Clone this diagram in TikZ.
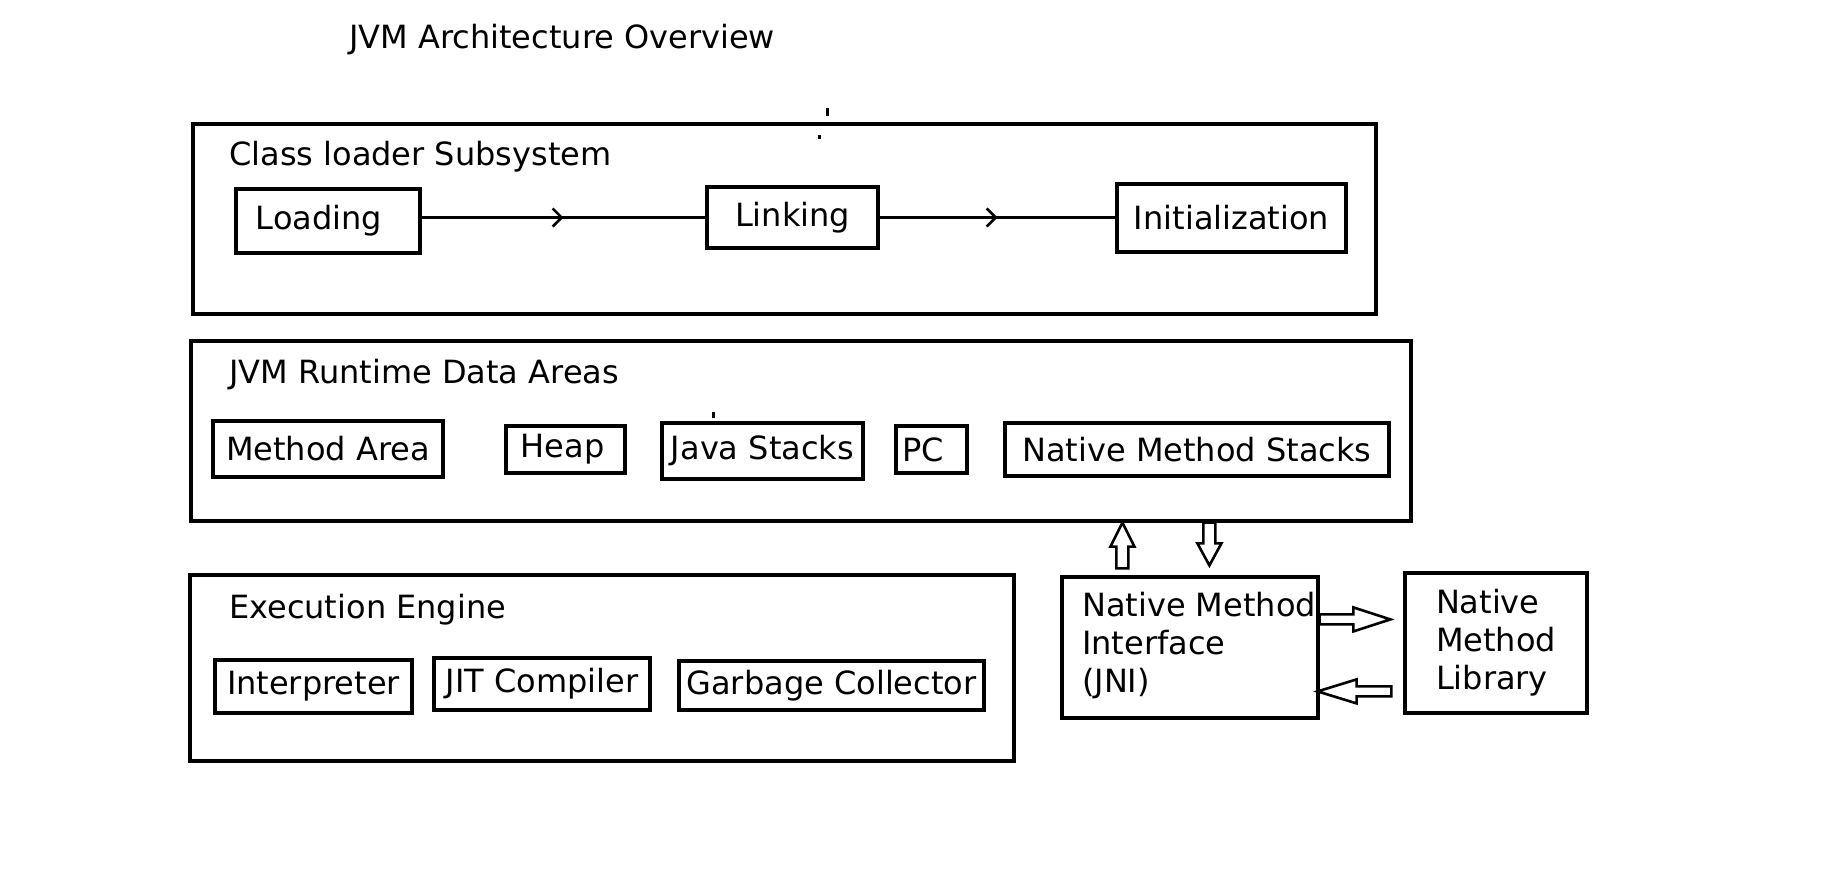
\documentclass[tikz,border=0pt]{standalone}
\usepackage{fontspec}
\setmainfont{DejaVu Sans}
\usetikzlibrary{calc,arrows.meta,decorations.markings}
\tikzset{
  txt/.style={font=\fontsize{32}{38}\selectfont, inner sep=0pt},
  box/.style={draw, line width=3.2pt, inner sep=0pt, font=\fontsize{32}{38}\selectfont},
  outer/.style={draw, line width=3.2pt, inner sep=0pt},
  flow/.style={line width=2.6pt, postaction={decorate, decoration={markings,
      mark=at position 0.5 with {\arrow{Straight Barb[length=9pt,width=18pt,line width=2.6pt]}}}}},
  hollow/.style={draw, fill=white, line width=2.6pt, line join=miter},
  speck/.style={fill=black, draw=none}
}
\begin{document}
\begin{tikzpicture}[x=1pt,y=-1pt]
\useasboundingbox (0,0) rectangle (1824,879);

% title
\node[txt, anchor=west] (title) at (349,40) {JVM Architecture Overview};

% class loader subsystem
\node[outer, minimum width=1183, minimum height=190] (cl) at (784.5,219) {};
\node[txt, anchor=west] (cltitle) at (229,157) {Class loader Subsystem};
\node[box, minimum width=184, minimum height=64] (loading) at (328,221) {Loading\hspace*{18pt}};
\node[box, minimum width=171, minimum height=61] (linking) at (792.5,217.5) {Linking};
\node[box, minimum width=229, minimum height=68] (init) at (1231.5,218) {Initialization};
\draw[flow] (loading.east |- linking.west) -- (linking.west);
\draw[flow] (linking.east) -- (linking.east -| init.west);

% stray specks
\fill[speck] (826,108) rectangle (829,116);
\fill[speck] (818,135) rectangle (821,139);
\fill[speck] (712,412) rectangle (715,418);

% runtime data areas
\node[outer, minimum width=1220, minimum height=180] (rt) at (801,431) {};
\node[txt, anchor=west] (rttitle) at (229,375) {JVM Runtime Data Areas};
\node[box, minimum width=230, minimum height=56] (method) at (328,449) {Method Area};
\node[box, minimum width=119, minimum height=47] (heap) at (565.5,449.5) {Heap\hspace*{6pt}};
\node[box, minimum width=201, minimum height=56] (jstack) at (762.5,451) {Java Stacks};
\node[box, minimum width=71, minimum height=47] (pc) at (931.5,449.5) {PC\hspace*{16pt}};
\node[box, minimum width=384, minimum height=53] (nms) at (1197,449.5) {Native Method Stacks};

% execution engine
\node[outer, minimum width=824, minimum height=186] (ee) at (602,668) {};
\node[txt, anchor=west] (eetitle) at (229,610) {Execution Engine};
\node[box, minimum width=197, minimum height=53] (interp) at (313.5,686.5) {Interpreter};
\node[box, minimum width=216, minimum height=52] (jit) at (542,684) {JIT Compiler};
\node[box, minimum width=305, minimum height=49] (gc) at (831.5,685.5) {Garbage Collector};

% native method interface and library
\node[box, minimum width=256, minimum height=141, align=left] (jni) at (1190,647.5) {\hspace*{18pt}Native Method\\\hspace*{18pt}Interface\\\hspace*{18pt}(JNI)\vspace*{4pt}};
\node[box, minimum width=182, minimum height=140, align=left] (nml) at (1496,643) {Native\\Method\\Library};

% up arrow JNI -> runtime
\path (jni.north west) ++(62,-7) coordinate (ub);
\coordinate (ut) at (ub |- rt.south);
\draw[hollow] ($(ub)+(-6,0)$) -- ($(ut)+(-6,24)$) -- ($(ut)+(-12,24)$) -- (ut)
  -- ($(ut)+(12,24)$) -- ($(ut)+(6,24)$) -- ($(ub)+(6,0)$) -- cycle;

% down arrow runtime -> JNI
\path (jni.north west) ++(149,-10) coordinate (dt);
\coordinate (db) at (dt |- rt.south);
\draw[hollow] ($(db)+(-6,0)$) -- ($(dt)+(-6,-22)$) -- ($(dt)+(-12,-22)$) -- (dt)
  -- ($(dt)+(12,-22)$) -- ($(dt)+(6,-22)$) -- ($(db)+(6,0)$) -- cycle;

% right arrow JNI -> library
\path (jni.north east) ++(0,44) coordinate (rb);
\path (rb -| nml.west) ++(-13,0) coordinate (rtip);
\draw[hollow] ($(rb)+(0,-5)$) -- ($(rtip)+(-37,-5)$) -- ($(rtip)+(-37,-12)$) -- (rtip)
  -- ($(rtip)+(-37,12)$) -- ($(rtip)+(-37,5)$) -- ($(rb)+(0,5)$) -- cycle;

% left arrow library -> JNI
\path (nml.north west) ++(-12,120) coordinate (lb);
\path (lb -| jni.east) ++(-2,0) coordinate (ltip);
\draw[hollow] ($(lb)+(0,-5)$) -- ($(ltip)+(39,-5)$) -- ($(ltip)+(39,-12)$) -- (ltip)
  -- ($(ltip)+(39,12)$) -- ($(ltip)+(39,5)$) -- ($(lb)+(0,5)$) -- cycle;
\end{tikzpicture}
\end{document}
